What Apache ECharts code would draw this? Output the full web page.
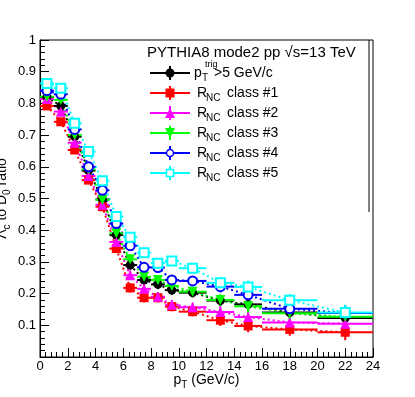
<!DOCTYPE html>
<html>
<head>
<meta charset="utf-8">
<script src="https://cdn.jsdelivr.net/npm/echarts@6/dist/echarts.min.js"></script>
<style>
html, body { margin: 0; padding: 0; background: #fff; }
#main { width: 415px; height: 397px; }
</style>
</head>
<body>
<div id="main"></div>
<script>
// pT bins (GeV/c)
var binCenter = [0.5, 1.5, 2.5, 3.5, 4.5, 5.5, 6.5, 7.5, 8.5, 9.5, 11, 13, 15, 18, 22];
var binLow    = [0, 1, 2, 3, 4, 5, 6, 7, 8, 9, 10, 12, 14, 16, 20];
var binHigh   = [1, 2, 3, 4, 5, 6, 7, 8, 9, 10, 12, 14, 16, 20, 24];
var statErr   = [0.012, 0.012, 0.012, 0.012, 0.012, 0.012, 0.015, 0.015, 0.015, 0.015, 0.015, 0.018, 0.02, 0.02, 0.025];

// Lambda_c / D0 ratio per class
var trigPt5 = [0.820, 0.792, 0.695, 0.588, 0.497, 0.385, 0.290, 0.243, 0.229, 0.211, 0.203, 0.178, 0.166, 0.140, 0.123];
var rnc1    = [0.792, 0.742, 0.653, 0.558, 0.474, 0.342, 0.218, 0.187, 0.187, 0.159, 0.143, 0.116, 0.098, 0.087, 0.078];
var rnc2    = [0.814, 0.774, 0.676, 0.571, 0.480, 0.363, 0.258, 0.215, 0.190, 0.165, 0.157, 0.142, 0.126, 0.109, 0.105];
var rnc3    = [0.821, 0.811, 0.700, 0.592, 0.496, 0.390, 0.308, 0.253, 0.243, 0.224, 0.206, 0.180, 0.160, 0.138, 0.127];
var rnc4    = [0.840, 0.829, 0.718, 0.600, 0.526, 0.421, 0.351, 0.283, 0.282, 0.243, 0.240, 0.222, 0.196, 0.152, 0.139];
var rnc5    = [0.863, 0.848, 0.737, 0.648, 0.556, 0.443, 0.378, 0.329, 0.296, 0.303, 0.280, 0.234, 0.221, 0.179, 0.140];

var header = 'PYTHIA8 mode2 pp \u221As=13 TeV';

var sets = [
	{ label: 'trig', data: trigPt5, color: '#000000', symbol: 'circle', rot: 0, size: 9 },
	{ label: '#1', data: rnc1, color: '#ff0000', symbol: 'rect', rot: 0, size: 9 },
	{ label: '#2', data: rnc2, color: '#ff00ff', symbol: 'triangle', rot: 0, size: 10 },
	{ label: '#3', data: rnc3, color: '#00ff00', symbol: 'triangle', rot: 180, size: 10 },
	{ label: '#4', data: rnc4, color: '#0000ff', symbol: 'emptyCircle', rot: 0, size: 9 },
	{ label: '#5', data: rnc5, color: '#00ffff', symbol: 'emptyRect', rot: 0, size: 9 }
];

var font = '"Liberation Sans", Arial, Helvetica, sans-serif';
var myChart = echarts.init(document.getElementById('main'));

var series = [];
sets.forEach(function(s) {
	var pts = binCenter.map(function(x, i) { return [x, s.data[i]]; });
	// dotted connecting line
	series.push({
		type: 'line',
		data: pts,
		showSymbol: false,
		silent: true,
		lineStyle: { color: s.color, width: 2, type: [2, 3] },
		z: 2
	});
	// error bars: horizontal = bin width, vertical = stat error
	series.push({
		type: 'custom',
		data: binCenter.map(function(x, i) { return [x, s.data[i], binLow[i], binHigh[i], statErr[i]]; }),
		renderItem: function(params, api) {
			var c = api.coord([api.value(0), api.value(1)]);
			var l = api.coord([api.value(2), api.value(1)]);
			var r = api.coord([api.value(3), api.value(1)]);
			var t = api.coord([api.value(0), api.value(1) + api.value(4)]);
			var b = api.coord([api.value(0), api.value(1) - api.value(4)]);
			var st = { stroke: s.color, lineWidth: 2 };
			return {
				type: 'group',
				children: [
					{ type: 'line', shape: { x1: l[0], y1: l[1], x2: r[0], y2: r[1] }, style: st },
					{ type: 'line', shape: { x1: c[0], y1: t[1], x2: c[0], y2: b[1] }, style: st }
				]
			};
		},
		z: 3
	});
	// markers
	series.push({
		type: 'scatter',
		data: pts,
		symbol: s.symbol,
		symbolSize: s.size,
		symbolRotate: s.rot,
		itemStyle: { color: s.color, borderColor: s.color, borderWidth: s.symbol.indexOf('empty') === 0 ? 1.5 : 0, opacity: 1 },
		z: 4
	});
});

// legend drawn as graphic
var graphic = [];
graphic.push({ type: 'line', shape: { x1: 369, y1: 40, x2: 369, y2: 212 }, style: { stroke: '#000', lineWidth: 1 } });
graphic.push({ type: 'text', x: 147, y: 53, style: { text: header, font: '15px ' + font, fill: '#000', verticalAlign: 'middle' } });
var legY = [73, 93, 113, 133, 153, 173];
sets.forEach(function(s, i) {
	var y = legY[i];
	graphic.push({ type: 'line', shape: { x1: 150, y1: y, x2: 190, y2: y }, style: { stroke: s.color, lineWidth: 2 } });
	graphic.push({ type: 'line', shape: { x1: 170, y1: y - 7, x2: 170, y2: y + 7 }, style: { stroke: s.color, lineWidth: 2 } });
	var h = s.size / 2;
	var sym;
	if (s.symbol === 'circle') sym = { type: 'circle', shape: { cx: 170, cy: y, r: h }, style: { fill: s.color } };
	else if (s.symbol === 'rect') sym = { type: 'rect', shape: { x: 170 - h, y: y - h, width: s.size, height: s.size }, style: { fill: s.color } };
	else if (s.symbol === 'triangle' && s.rot === 0) sym = { type: 'polygon', shape: { points: [[170, y - h], [170 + h, y + h], [170 - h, y + h]] }, style: { fill: s.color } };
	else if (s.symbol === 'triangle') sym = { type: 'polygon', shape: { points: [[170, y + h], [170 + h, y - h], [170 - h, y - h]] }, style: { fill: s.color } };
	else if (s.symbol === 'emptyCircle') sym = { type: 'circle', shape: { cx: 170, cy: y, r: h - 1 }, style: { fill: '#fff', stroke: s.color, lineWidth: 1.5 } };
	else sym = { type: 'rect', shape: { x: 170 - h + 1, y: y - h + 1, width: s.size - 2, height: s.size - 2 }, style: { fill: '#fff', stroke: s.color, lineWidth: 1.5 } };
	graphic.push(sym);
	if (s.label === 'trig') {
		graphic.push({ type: 'text', x: 194, y: y, style: { text: 'p', font: '14px ' + font, fill: '#000', verticalAlign: 'middle' } });
		graphic.push({ type: 'text', x: 202, y: y + 5, style: { text: 'T', font: '10px ' + font, fill: '#000', verticalAlign: 'middle' } });
		graphic.push({ type: 'text', x: 205, y: y - 8, style: { text: 'trig', font: '9px ' + font, fill: '#000', verticalAlign: 'middle' } });
		graphic.push({ type: 'text', x: 214, y: y, style: { text: '>5 GeV/c', font: '14px ' + font, fill: '#000', verticalAlign: 'middle' } });
	} else {
		graphic.push({ type: 'text', x: 197, y: y, style: { text: 'R', font: '14px ' + font, fill: '#000', verticalAlign: 'middle' } });
		graphic.push({ type: 'text', x: 206, y: y + 5, style: { text: 'NC', font: '10px ' + font, fill: '#000', verticalAlign: 'middle' } });
		graphic.push({ type: 'text', x: 227, y: y, style: { text: 'class ' + s.label, font: '14px ' + font, fill: '#000', verticalAlign: 'middle' } });
	}
});

var option = {
	animation: false,
	backgroundColor: '#fff',
	grid: { left: 40, right: 42, top: 40, bottom: 40, outerBoundsMode: 'none', containLabel: false, show: true, borderColor: '#000', borderWidth: 1, backgroundColor: 'transparent' },
	xAxis: {
		type: 'value', min: 0, max: 24, interval: 2,
		name: '{m|p}{s|T}{m| (GeV/c)}',
		nameLocation: 'middle', nameGap: 13, nameMoveOverlap: false,
		nameTextStyle: { rich: { m: { fontSize: 14, fontFamily: font, color: '#000', lineHeight: 20 }, s: { fontSize: 10, fontFamily: font, color: '#000', verticalAlign: 'bottom' } } },
		axisLine: { lineStyle: { color: '#000', width: 1 } },
		axisTick: { inside: true, length: 9, lineStyle: { color: '#000' } },
		minorTick: { show: true, splitNumber: 5, length: 5, lineStyle: { color: '#000' } },
		axisLabel: { fontSize: 13, fontFamily: font, color: '#000', margin: 3 },
		splitLine: { show: false }
	},
	yAxis: {
		type: 'value', min: 0, max: 1, interval: 0.1,
		name: '{m|\u039B}{s|c}{m| to D}{s|0}{m| ratio}',
		nameLocation: 'middle', nameGap: 28, nameRotate: 90, nameMoveOverlap: false,
		nameTextStyle: { rich: { m: { fontSize: 14, fontFamily: font, color: '#000', lineHeight: 20 }, s: { fontSize: 10, fontFamily: font, color: '#000', verticalAlign: 'bottom' } } },
		axisLine: { lineStyle: { color: '#000', width: 1 } },
		axisTick: { inside: true, length: 9, lineStyle: { color: '#000' } },
		minorTick: { show: true, splitNumber: 5, length: 5, lineStyle: { color: '#000' } },
		axisLabel: {
			fontSize: 13, fontFamily: font, color: '#000', margin: 4,
			formatter: function(v) {
				if (v === 0) return '';
				if (Math.abs(v - 1) < 1e-9) return '1';
				return v.toFixed(1);
			}
		},
		splitLine: { show: false }
	},
	graphic: graphic,
	series: series
};
myChart.setOption(option);
</script>
</body>
</html>
